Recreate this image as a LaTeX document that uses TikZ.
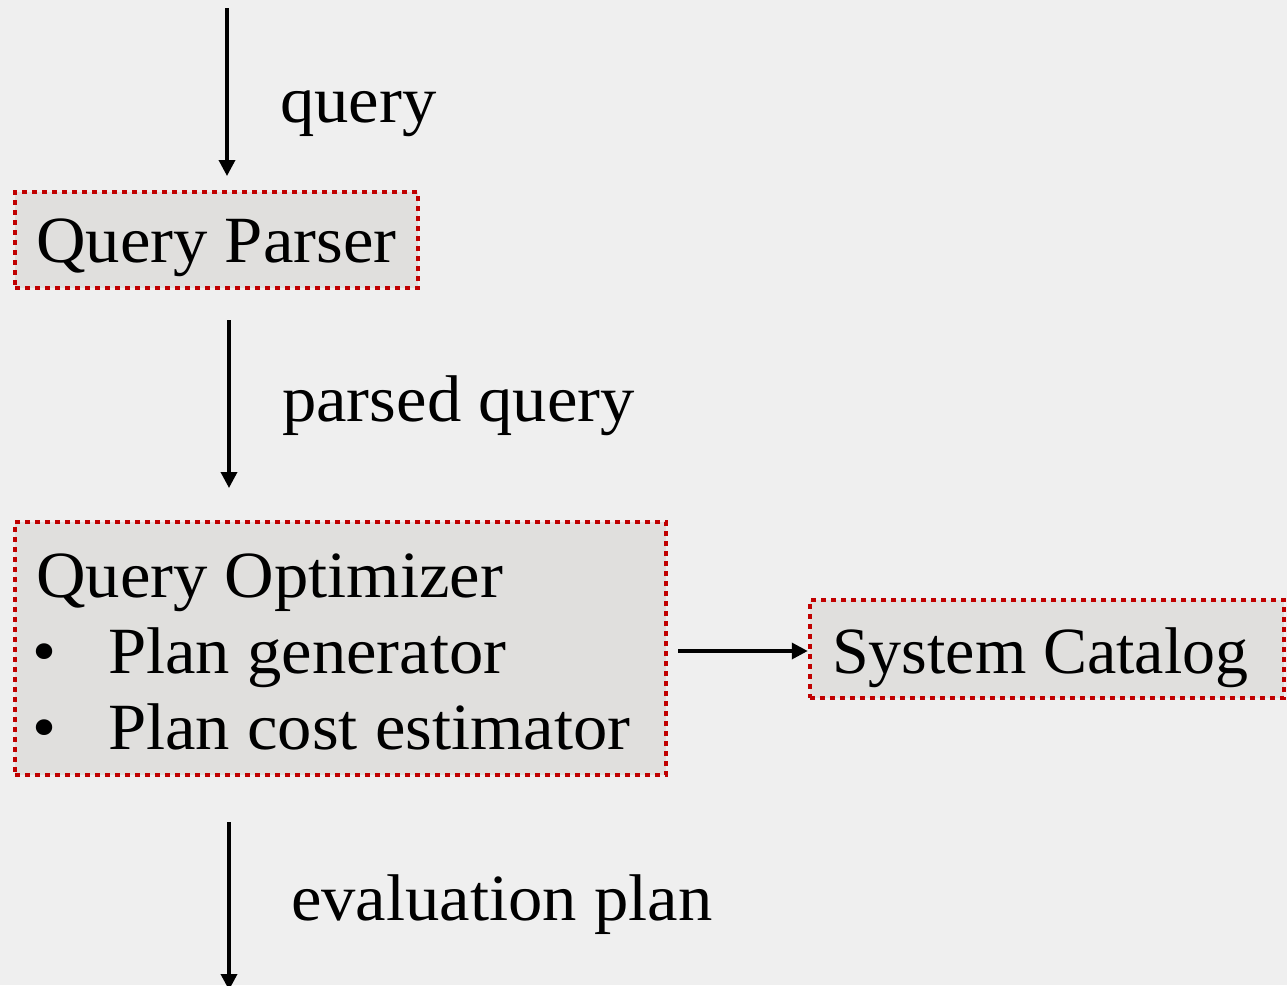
\documentclass[tikz,border=0pt]{standalone}
\usepackage{fontspec}
\setmainfont{Liberation Serif}
\newfontfamily\widefont[FakeStretch=1.04]{Liberation Serif}
\usetikzlibrary{arrows.meta}
\definecolor{bg}{HTML}{EFEFEF}
\definecolor{boxfill}{HTML}{E0DFDD}
\definecolor{boxline}{HTML}{C00000}
\begin{document}
\begin{tikzpicture}[x=1pt,y=-1pt,
  box/.style={draw=boxline, fill=boxfill, line width=4.5pt, dash pattern=on 5pt off 5pt, rectangle, inner sep=0pt},
  lbl/.style={anchor=base west, inner sep=0pt, font=\widefont\fontsize{66}{70}\selectfont},
  arr/.style={line width=3.5pt, -{Triangle[width=16pt,length=16pt]}}]
\useasboundingbox[fill=bg] (0,0) rectangle (1287,985);
% boxes
\node[box, minimum width=403pt, minimum height=96pt] (qp) at (216.5,240) {};
\node[box, minimum width=651pt, minimum height=253pt] (qo) at (340.5,648.5) {};
\node[box, minimum width=474pt, minimum height=98pt] (sc) at (1047,649) {};
% texts
\node[lbl] (tqp) at (36,262) {Query Parser};
\node[lbl] (tqo) at (36,597) {Query Optimizer};
\node[lbl] (b1) at (32,673) {•};
\node[lbl] (tpg) at (108,673) {Plan generator};
\node[lbl] (b2) at (32,749) {•};
\node[lbl] (tpc) at (108,749) {Plan cost estimator};
\node[lbl, font=\rmfamily\fontsize{66}{70}\selectfont] (tsc) at (832,673) {System Catalog};
\node[lbl] (l1) at (280,122) {query};
\node[lbl] (l2) at (282,421) {parsed query};
\node[lbl] (l3) at (291,920) {evaluation plan};
% arrow end points
\coordinate (a1s) at (227,8);
\coordinate (a1e) at (227,176);
\coordinate (a2s) at (229,320);
\coordinate (a2e) at (229,488);
\coordinate (a3s) at (229,822);
\coordinate (a3e) at (229,990);
\coordinate (a4s) at (678,651);
\draw[arr] (a1s) -- (a1e);
\draw[arr] (a2s) -- (a2e);
\draw[arr] (a3s) -- (a3e);
\draw[arr] (a4s) -- (sc.west |- a4s);
\end{tikzpicture}
\end{document}
